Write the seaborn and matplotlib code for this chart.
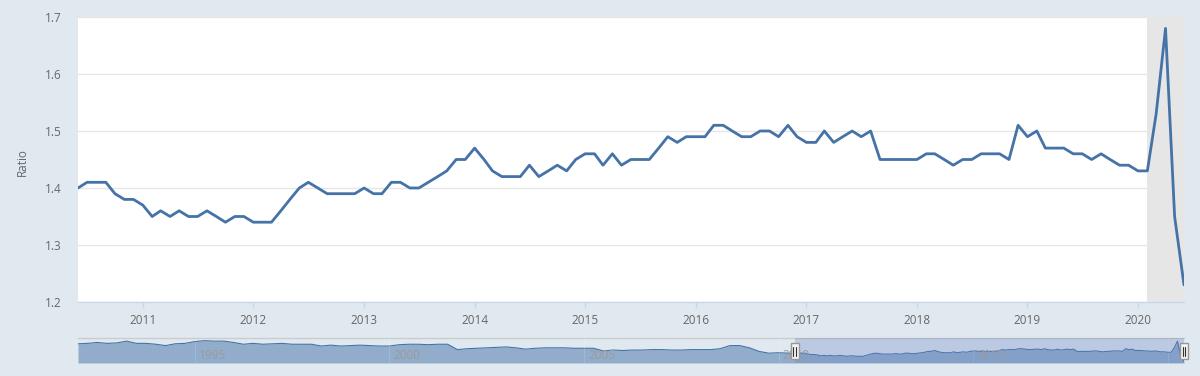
import numpy as np
import pandas as pd
import matplotlib
matplotlib.use('Agg')
import matplotlib.pyplot as plt
import matplotlib.dates as mdates
from matplotlib.patches import Rectangle
import seaborn as sns

# Monthly ratio, Jun 2010 - Jun 2020 (main chart)
ratio_2010 = [1.40, 1.41, 1.41, 1.41, 1.39, 1.38, 1.38]
ratio_2011 = [1.37, 1.35, 1.36, 1.35, 1.36, 1.35, 1.35, 1.36, 1.35, 1.34, 1.35, 1.35]
ratio_2012 = [1.34, 1.34, 1.34, 1.36, 1.38, 1.40, 1.41, 1.40, 1.39, 1.39, 1.39, 1.39]
ratio_2013 = [1.40, 1.39, 1.39, 1.41, 1.41, 1.40, 1.40, 1.41, 1.42, 1.43, 1.45, 1.45]
ratio_2014 = [1.47, 1.45, 1.43, 1.42, 1.42, 1.42, 1.44, 1.42, 1.43, 1.44, 1.43, 1.45]
ratio_2015 = [1.46, 1.46, 1.44, 1.46, 1.44, 1.45, 1.45, 1.45, 1.47, 1.49, 1.48, 1.49]
ratio_2016 = [1.49, 1.49, 1.51, 1.51, 1.50, 1.49, 1.49, 1.50, 1.50, 1.49, 1.51, 1.49]
ratio_2017 = [1.48, 1.48, 1.50, 1.48, 1.49, 1.50, 1.49, 1.50, 1.45, 1.45, 1.45, 1.45]
ratio_2018 = [1.45, 1.46, 1.46, 1.45, 1.44, 1.45, 1.45, 1.46, 1.46, 1.46, 1.45, 1.51]
ratio_2019 = [1.49, 1.50, 1.47, 1.47, 1.47, 1.46, 1.46, 1.45, 1.46, 1.45, 1.44, 1.44]
ratio_2020 = [1.43, 1.43, 1.53, 1.68, 1.35, 1.23]

# Quarterly readings of the navigator series, Jan 1992 - Apr 2010
nav_early = [1.62, 1.63, 1.65, 1.63,  1.64, 1.68, 1.63, 1.63,
             1.61, 1.58, 1.62, 1.63,  1.67, 1.69, 1.68, 1.68,
             1.65, 1.61, 1.63, 1.61,  1.62, 1.63, 1.61, 1.61,
             1.61, 1.57, 1.59, 1.57,  1.58, 1.59, 1.58, 1.57,
             1.57, 1.60, 1.61, 1.61,  1.60, 1.61, 1.61, 1.49,
             1.51, 1.52, 1.53, 1.54,  1.55, 1.53, 1.50, 1.52,
             1.53, 1.53, 1.53, 1.52,  1.52, 1.52, 1.46, 1.48,
             1.47, 1.48, 1.48, 1.49,  1.49, 1.48, 1.48, 1.49,
             1.49, 1.49, 1.51, 1.58,  1.58, 1.53, 1.45, 1.41,
             1.42, 1.41]

recession_start = '2020-02-01'
y_ticks = [1.2, 1.3, 1.4, 1.5, 1.6, 1.7]
nav_years = [1995, 2000, 2005, 2010, 2015]

ratio = (ratio_2010 + ratio_2011 + ratio_2012 + ratio_2013 + ratio_2014 + ratio_2015
         + ratio_2016 + ratio_2017 + ratio_2018 + ratio_2019 + ratio_2020)
df = pd.DataFrame({'date': pd.date_range('2010-06-01', periods=len(ratio), freq='MS'),
                   'ratio': ratio})
nav = pd.concat([
    pd.DataFrame({'date': pd.date_range('1992-01-01', periods=len(nav_early), freq='QS'),
                  'ratio': nav_early}),
    df], ignore_index=True)

BG = '#e1e9f0'
BLUE = '#4572a7'
sns.set_theme(style='white')
plt.rcParams['font.family'] = ['Open Sans', 'DejaVu Sans']

fig = plt.figure(figsize=(12, 3.76), dpi=100, facecolor=BG)
ax = fig.add_axes([78 / 1200, 74 / 376, 1106 / 1200, 285 / 376])
ax_nav = fig.add_axes([78 / 1200, 13 / 376, 1106 / 1200, 25 / 376])

# main chart
ax.set_facecolor('white')
ax.axvspan(pd.Timestamp(recession_start), df['date'].iloc[-1], color='#e6e6e6', lw=0, zorder=0)
sns.lineplot(data=df, x='date', y='ratio', ax=ax, color=BLUE, linewidth=2, zorder=3)
ax.set_xlim(df['date'].iloc[0], df['date'].iloc[-1])
ax.set_ylim(y_ticks[0], y_ticks[-1])
ax.set_yticks(y_ticks)
ax.set_yticklabels([f'{v:.1f}' for v in y_ticks])
ax.yaxis.grid(True, color='#e6e6e6', linewidth=1)
ax.xaxis.set_major_locator(mdates.YearLocator())
ax.xaxis.set_major_formatter(mdates.DateFormatter('%Y'))
ax.set_xlabel('')
ax.set_ylabel('')
for s in ['top', 'left', 'right']:
    ax.spines[s].set_visible(False)
ax.spines['bottom'].set_color('#ccd6eb')
ax.spines['bottom'].set_linewidth(1)
ax.tick_params(axis='x', length=4, width=1, color='#ccd6eb', pad=5,
               labelsize=8.5, labelcolor='#666666', bottom=True)
ax.tick_params(axis='y', length=0, pad=12, labelsize=8.5, labelcolor='#666666')
fig.text(22 / 1200, 1 - 162 / 376, 'Ratio', rotation=90, ha='center', va='center',
         fontsize=8.5, color='#666666')

# navigator
ax_nav.set_facecolor(BG)
nav_min, nav_max = 1.19, 1.75
ax_nav.fill_between(nav['date'], nav['ratio'], nav_min, color=BLUE, alpha=0.5, lw=0)
sns.lineplot(data=nav, x='date', y='ratio', ax=ax_nav, color=BLUE, linewidth=0.8)
ax_nav.set_xlim(nav['date'].iloc[0], nav['date'].iloc[-1])
ax_nav.set_ylim(nav_min, nav_max)
ax_nav.axvspan(df['date'].iloc[0], df['date'].iloc[-1], color=(102 / 255, 133 / 255, 194 / 255),
               alpha=0.3, lw=0, zorder=4)
for yr in nav_years + [2020]:
    ax_nav.axvline(pd.Timestamp(f'{yr}-01-01'), color='white', alpha=0.15, lw=0.7, zorder=3)
for yr in nav_years:
    ax_nav.text(pd.Timestamp(f'{yr}-01-01') + pd.Timedelta(days=38), 0.3, str(yr),
                transform=ax_nav.get_xaxis_transform(), ha='left', va='center',
                fontsize=8.5, color='#9a9a9a', zorder=5)
ax_nav.set_xticks([])
ax_nav.set_yticks([])
ax_nav.set_xlabel('')
ax_nav.set_ylabel('')
for s in ['left', 'right', 'bottom']:
    ax_nav.spines[s].set_visible(False)
ax_nav.spines['top'].set_color('#cccccc')
ax_nav.spines['top'].set_linewidth(1)

# range handles
for d in [df['date'].iloc[0], df['date'].iloc[-1]]:
    c = mdates.date2num(d)
    ax_nav.add_patch(Rectangle((c - 38, 0.16), 76, 0.64, transform=ax_nav.get_xaxis_transform(),
                               facecolor='#f2f2f2', edgecolor='#999999', lw=1, zorder=6,
                               clip_on=False))
    for off in (-12, 12):
        ax_nav.plot([c + off, c + off], [0.3, 0.66], transform=ax_nav.get_xaxis_transform(),
                    color='#333333', lw=0.8, zorder=7, clip_on=False)

fig.savefig('out.png', dpi=100, facecolor=BG)
